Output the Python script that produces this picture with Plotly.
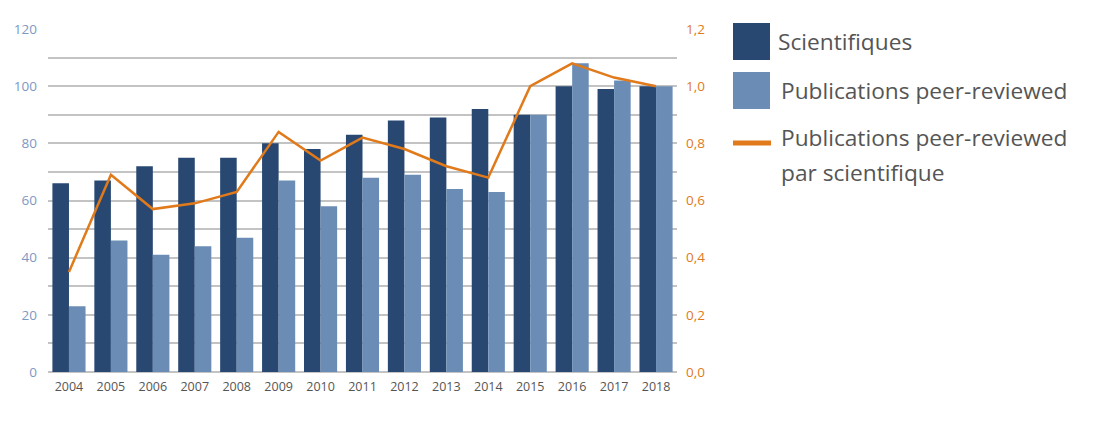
import plotly.graph_objects as go

years = ["2004", "2005", "2006", "2007", "2008", "2009", "2010", "2011",
         "2012", "2013", "2014", "2015", "2016", "2017", "2018"]
scientifiques = [66, 67, 72, 75, 75, 80, 78, 83, 88, 89, 92, 90, 100, 99, 100]
publications = [23, 46, 41, 44, 47, 67, 58, 68, 69, 64, 63, 90, 108, 102, 100]
ratio = [0.35, 0.69, 0.57, 0.59, 0.63, 0.84, 0.74, 0.82, 0.78, 0.72, 0.68, 1.0, 1.08, 1.03, 1.0]

left_ticks = list(range(0, 121, 10))
left_text = [str(v) if v % 20 == 0 else "" for v in left_ticks]
right_ticks = [0, 0.2, 0.4, 0.6, 0.8, 1.0, 1.2]
right_text = ["0,0", "0,2", "0,4", "0,6", "0,8", "1,0", "1,2"]

legend_labels = ["Scientifiques", "Publications peer-reviewed",
                 "Publications peer-reviewed", "par scientifique"]

DARK = "#284872"
LIGHT = "#6b8db5"
ORANGE = "#e07a1a"
GRID = "#c3c3c3"
FONT = "Open Sans"

fig = go.Figure()
fig.add_trace(go.Bar(x=years, y=scientifiques, name=legend_labels[0],
                     marker=dict(color=DARK, line=dict(width=0))))
fig.add_trace(go.Bar(x=years, y=publications, name=legend_labels[1],
                     marker=dict(color=LIGHT, line=dict(width=0))))
fig.add_trace(go.Scatter(x=years, y=ratio, name="ratio", yaxis="y2", mode="lines",
                         line=dict(color=ORANGE, width=2.5)))

fig.update_layout(
    width=1100, height=440,
    margin=dict(l=48, r=423, t=29, b=68),
    paper_bgcolor="white", plot_bgcolor="white",
    barmode="group", bargap=0.21, bargroupgap=0,
    showlegend=False,
    font=dict(family=FONT),
    xaxis=dict(type="category", showgrid=False, showline=False, ticks="",
               ticklabelstandoff=5,
               tickfont=dict(size=12.5, color="#555555", family=FONT)),
    yaxis=dict(range=[0, 120], tickvals=left_ticks, ticktext=left_text,
               showgrid=True, gridcolor=GRID, gridwidth=1.5,
               zeroline=True, zerolinecolor=GRID, zerolinewidth=1.5,
               showline=False, ticks="", ticklabelstandoff=10,
               tickfont=dict(size=13.5, color="#7c99c4", family=FONT)),
    yaxis2=dict(range=[0, 1.2], overlaying="y", side="right",
                tickvals=right_ticks, ticktext=right_text,
                showgrid=False, zeroline=False, showline=False, ticks="",
                ticklabelstandoff=8,
                tickfont=dict(size=13.5, color=ORANGE, family=FONT)),
)

# custom legend drawn in paper coordinates
px = lambda x: (x - 48) / (1100 - 48 - 423)
py = lambda y: (440 - 68 - y) / (440 - 29 - 68)
shapes = [
    dict(type="rect", xref="paper", yref="paper",
         x0=px(733), x1=px(770), y0=py(60), y1=py(23),
         fillcolor=DARK, line=dict(width=0)),
    dict(type="rect", xref="paper", yref="paper",
         x0=px(733), x1=px(770), y0=py(109), y1=py(72),
         fillcolor=LIGHT, line=dict(width=0)),
    dict(type="line", xref="paper", yref="paper",
         x0=px(733), x1=px(771), y0=py(143), y1=py(143),
         line=dict(color=ORANGE, width=5)),
]
fig.update_layout(shapes=shapes)

annots = [
    (779, 42, legend_labels[0]),
    (782, 90, legend_labels[1]),
    (782, 137, legend_labels[2]),
    (782, 172, legend_labels[3]),
]
for x, y, t in annots:
    fig.add_annotation(xref="paper", yref="paper", x=px(x), y=py(y), text=t,
                       showarrow=False, xanchor="left", yanchor="middle", align="left",
                       xshift=-3,
                       font=dict(size=22.7, color="#555555", family=FONT))

fig.write_html("out.html")
